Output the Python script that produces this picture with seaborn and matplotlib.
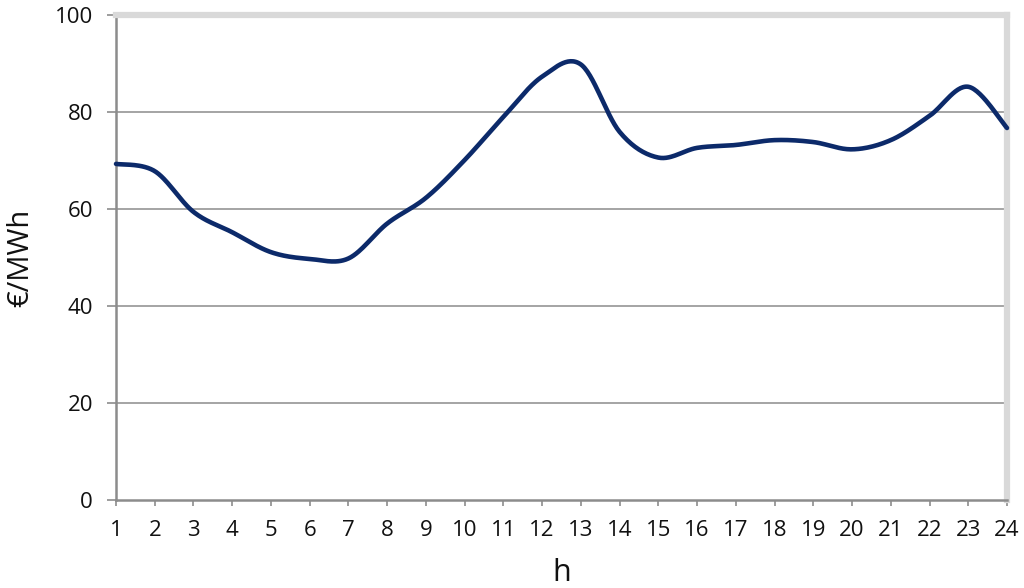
"""Hourly electricity price profile, smoothed line like a spreadsheet chart."""

import numpy as np
import pandas as pd
import matplotlib
matplotlib.use("Agg")
import matplotlib.pyplot as plt
import seaborn as sns

hours = list(range(1, 25))
price = [69.3, 67.8, 59.4, 55.2, 51.1, 49.7, 49.8, 57.0, 62.3, 70.1, 79.0, 87.3,
         89.8, 75.9, 70.6, 72.6, 73.2, 74.2, 73.8, 72.3, 74.2, 79.2, 85.2, 76.7]
y_ticks = [0, 20, 40, 60, 80, 100]

LINE = "#0c2a6a"
GRID = "#8c8c8c"
FRAME = "#d9d9d9"


def smooth_curve(x, y, steps=30):
    """Bezier smoothing through every point (Catmull-Rom style)."""
    x = np.asarray(x, float)
    y = np.asarray(y, float)
    xs, ys = [], []
    n = len(x)
    for i in range(n - 1):
        p0 = np.array([x[max(i - 1, 0)], y[max(i - 1, 0)]])
        p1 = np.array([x[i], y[i]])
        p2 = np.array([x[i + 1], y[i + 1]])
        p3 = np.array([x[min(i + 2, n - 1)], y[min(i + 2, n - 1)]])
        c1 = p1 + (p2 - p0) / 6
        c2 = p2 - (p3 - p1) / 6
        t = np.linspace(0, 1, steps, endpoint=(i == n - 2))[:, None]
        pts = ((1 - t) ** 3) * p1 + 3 * ((1 - t) ** 2) * t * c1 \
            + 3 * (1 - t) * t ** 2 * c2 + t ** 3 * p2
        xs.extend(pts[:, 0])
        ys.extend(pts[:, 1])
    return pd.DataFrame({"h": xs, "price": ys})


sns.set_theme(style="white")
plt.rcParams["font.family"] = ["Open Sans", "DejaVu Sans"]

fig = plt.figure(figsize=(10.24, 5.88), dpi=100)
ax = fig.add_axes([0.1133, 0.1497, 0.8701, 0.8248])

curve = smooth_curve(hours, price)
sns.lineplot(data=curve, x="h", y="price", color=LINE, linewidth=3.3,
             sort=False, ax=ax, zorder=3, clip_on=False)

ax.set_xlim(1, 24)
ax.set_ylim(0, 100)
ax.set_xticks(hours)
ax.set_yticks(y_ticks)
ax.tick_params(axis="both", labelsize=16, labelcolor="#111111")
ax.tick_params(axis="x", direction="out", length=4.5, width=1.2, color=GRID,
               bottom=True, pad=10)
ax.tick_params(axis="y", direction="out", length=6.5, width=1.2, color=GRID,
               left=True, pad=10)

for v in y_ticks[1:-1]:
    ax.axhline(v, color=GRID, linewidth=1.1, zorder=1)

ax.spines["left"].set_color(GRID)
ax.spines["left"].set_linewidth(1.8)
ax.spines["bottom"].set_color(GRID)
ax.spines["bottom"].set_linewidth(1.8)
ax.spines["top"].set_color(FRAME)
ax.spines["top"].set_linewidth(4.5)
ax.spines["right"].set_color(FRAME)
ax.spines["right"].set_linewidth(4.5)

ax.set_xlabel("h", fontsize=22, color="#111111", labelpad=12)
ax.set_ylabel("€/MWh", fontsize=21, color="#111111", labelpad=14)

fig.savefig("out.png", dpi=100)
